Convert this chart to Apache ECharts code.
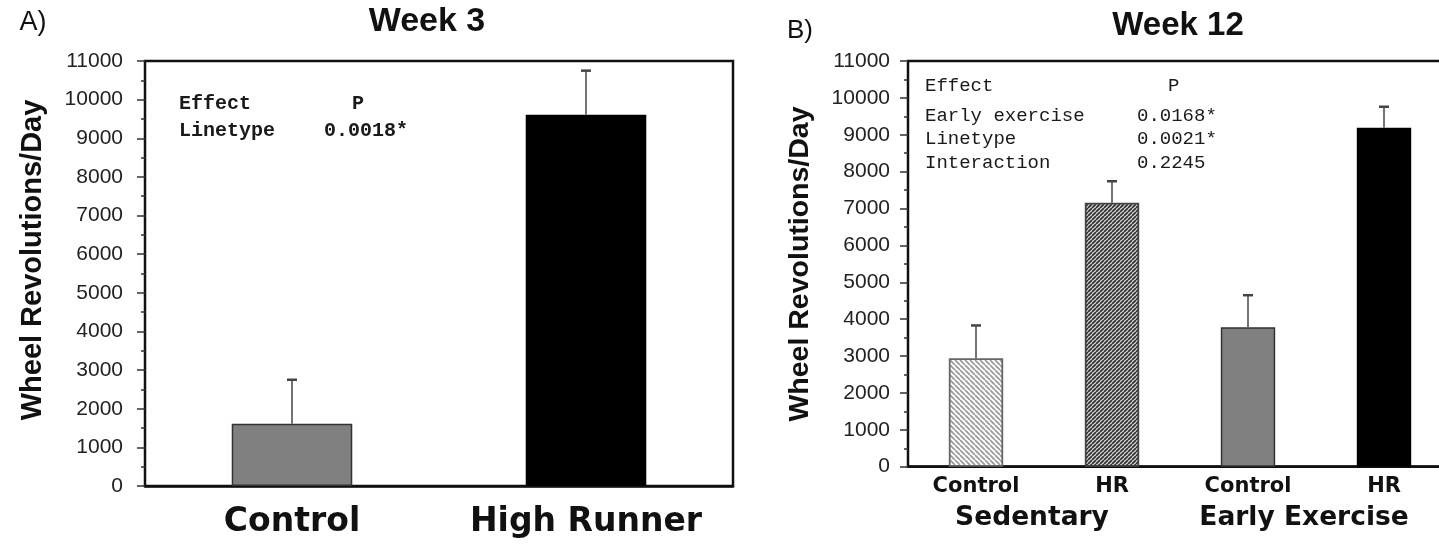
<!DOCTYPE html>
<html><head><meta charset="utf-8">
<script src="https://cdn.jsdelivr.net/npm/echarts@6/dist/echarts.min.js"></script>
<style>html,body{margin:0;padding:0;background:#fff}#c{width:1439px;height:547px}</style>
</head><body><div id="c"></div>
<script>
// ---- data ----
const week3Categories = ['Control', 'High Runner'];
const week3Means = [1610, 9610];
const week3Upper = [2750, 10750];
const week12Categories = ['Control', 'HR', 'Control', 'HR'];
const week12Groups = ['Sedentary', 'Early Exercise'];
const week12Means = [2940, 7160, 3780, 9190];
const week12Upper = [3830, 7740, 4650, 9760];
const yMin = 0, yMax = 11000, yStep = 1000;
const week3Stats = [['Effect', 'P'], ['Linetype', '0.0018*']];
const week12Stats = [['Effect', 'P'], ['Early exercise', '0.0168*'], ['Linetype', '0.0021*'], ['Interaction', '0.2245']];

// ---- styling helpers ----
function hatch(size, dir, bg, fg, lw) {
  const c = document.createElement('canvas');
  c.width = size; c.height = size;
  const g = c.getContext('2d');
  g.fillStyle = bg; g.fillRect(0, 0, size, size);
  g.strokeStyle = fg; g.lineWidth = lw;
  g.beginPath();
  for (let k = -size; k <= size; k += size) {
    if (dir === 'back') { g.moveTo(k, 0); g.lineTo(k + size, size); }
    else { g.moveTo(k, size); g.lineTo(k + size, 0); }
  }
  g.stroke();
  return c;
}
const lightHatch = { image: hatch(5, 'back', '#ffffff', '#9c9c9c', 1.8), repeat: 'repeat' };
const darkHatch = { image: hatch(4, 'fwd', '#d6d6d6', '#303030', 1.7), repeat: 'repeat' };

const week3Styles = [
  { color: '#808080', borderColor: '#333', borderWidth: 1.5 },
  { color: '#000000' }
];
const week12Styles = [
  { color: lightHatch, borderColor: '#666', borderWidth: 1.8 },
  { color: darkHatch, borderColor: '#444', borderWidth: 1.8 },
  { color: '#808080', borderColor: '#333', borderWidth: 1.5 },
  { color: '#000000' }
];

function errRender(params, api) {
  const i = api.value(0), m = api.value(1), u = api.value(2);
  const p0 = api.coord([i, m]);
  const p1 = api.coord([i, u]);
  return {
    type: 'group',
    children: [
      { type: 'line', shape: { x1: p0[0], y1: p0[1], x2: p1[0], y2: p1[1] }, style: { stroke: '#444', lineWidth: 1.5 } },
      { type: 'line', shape: { x1: p1[0] - 5, y1: p1[1], x2: p1[0] + 5, y2: p1[1] }, style: { stroke: '#444', lineWidth: 2.5 } }
    ]
  };
}

const tickFont = '"Liberation Sans", Arial, sans-serif';
const catFont = '"DejaVu Sans", Verdana, sans-serif';
const monoFont = '"Liberation Mono", "Courier New", monospace';

function yAxisFor(gi, margin) {
  return {
    gridIndex: gi, type: 'value', min: yMin, max: yMax, interval: yStep,
    axisLine: { show: true, lineStyle: { color: '#111', width: 2 } },
    axisTick: { show: true, length: 8, lineStyle: { color: '#333', width: 1.5 } },
    minorTick: { show: true, splitNumber: 2, length: 4, lineStyle: { color: '#333', width: 1.5 } },
    splitLine: { show: false },
    axisLabel: { fontSize: 21, color: '#222', fontFamily: tickFont, margin: margin, formatter: v => String(v) }
  };
}

function statTexts(rows, x1, x2, y0, dy, size, weight) {
  const out = [];
  rows.forEach((r, k) => {
    out.push({ type: 'text', left: x1, top: y0 + k * dy - size / 2, style: { text: r[0], font: weight + ' ' + size + 'px ' + monoFont, fill: '#1a1a1a' } });
    out.push({ type: 'text', left: x2, top: y0 + k * dy - size / 2, style: { text: r[1], font: weight + ' ' + size + 'px ' + monoFont, fill: '#1a1a1a' } });
  });
  return out;
}

const graphics = [
  { type: 'text', x: 33, y: 23, style: { text: 'A)', font: '27px ' + tickFont, fill: '#111', align: 'center', verticalAlign: 'middle' } },
  { type: 'text', x: 427, y: 22, style: { text: 'Week 3', font: 'bold 34px ' + tickFont, fill: '#111', align: 'center', verticalAlign: 'middle' } },
  { type: 'text', x: 800, y: 31, style: { text: 'B)', font: '26px ' + tickFont, fill: '#111', align: 'center', verticalAlign: 'middle' } },
  { type: 'text', x: 1178, y: 26, style: { text: 'Week 12', font: 'bold 33px ' + tickFont, fill: '#111', align: 'center', verticalAlign: 'middle' } },
  { type: 'text', x: 33, y: 260, rotation: Math.PI / 2, style: { text: 'Wheel Revolutions/Day', font: 'bold 29px ' + tickFont, fill: '#111', align: 'center', verticalAlign: 'middle' } },
  { type: 'text', x: 800, y: 264, rotation: Math.PI / 2, style: { text: 'Wheel Revolutions/Day', font: 'bold 28.5px ' + tickFont, fill: '#111', align: 'center', verticalAlign: 'middle' } }
].concat(
  statTexts([week3Stats[0]], 179, 352, 104, 0, 20, 'bold'),
  statTexts([week3Stats[1]], 179, 324, 131, 0, 20, 'bold'),
  statTexts([week12Stats[0]], 925, 1168, 86, 0, 19, 'normal'),
  statTexts(week12Stats.slice(1), 925, 1137, 116, 23.4, 19, 'normal')
);

const chart = echarts.init(document.getElementById('c'), null, { renderer: 'canvas' });
chart.setOption({
  animation: false,
  backgroundColor: '#fff',
  grid: [
    { left: 145, top: 61, width: 588, height: 425, outerBoundsMode: 'none', containLabel: false, show: true, borderColor: '#111', borderWidth: 2.5, backgroundColor: 'transparent' },
    { left: 908, top: 61, width: 544, height: 405.7, outerBoundsMode: 'none', containLabel: false, show: true, borderColor: '#111', borderWidth: 2.5, backgroundColor: 'transparent' }
  ],
  xAxis: [
    { gridIndex: 0, type: 'category', data: week3Categories,
      axisLine: { lineStyle: { color: '#111', width: 2.5 } },
      axisTick: { length: 6, lineStyle: { color: '#333', width: 1.5 } },
      axisLabel: { interval: 0, hideOverlap: false, fontSize: 33, fontWeight: 'bold', fontFamily: catFont, color: '#111', margin: 20 } },
    { gridIndex: 1, type: 'category', data: week12Categories,
      axisLine: { lineStyle: { color: '#111', width: 2.5 } },
      axisTick: { length: 5, lineStyle: { color: '#333', width: 1.5 } },
      axisLabel: { interval: 0, hideOverlap: false, fontSize: 21, fontWeight: 'bold', fontFamily: catFont, color: '#111', margin: 9 } },
    { gridIndex: 1, type: 'category', data: week12Groups, position: 'bottom',
      axisLine: { show: false }, axisTick: { show: false },
      axisLabel: { interval: 0, hideOverlap: false, fontSize: 26.5, fontWeight: 'bold', fontFamily: catFont, color: '#111', margin: 38, padding: [0, 24, 0, 0] } }
  ],
  yAxis: [yAxisFor(0, 22), yAxisFor(1, 18)],
  series: [
    { type: 'bar', xAxisIndex: 0, yAxisIndex: 0, barWidth: '41%',
      data: week3Means.map((v, i) => ({ value: v, itemStyle: week3Styles[i] })) },
    { type: 'custom', xAxisIndex: 0, yAxisIndex: 0, renderItem: errRender, z: 5,
      data: week3Means.map((v, i) => [i, v, week3Upper[i]]) },
    { type: 'bar', xAxisIndex: 1, yAxisIndex: 1, barWidth: '40%',
      data: week12Means.map((v, i) => ({ value: v, itemStyle: week12Styles[i] })) },
    { type: 'custom', xAxisIndex: 1, yAxisIndex: 1, renderItem: errRender, z: 5,
      data: week12Means.map((v, i) => [i, v, week12Upper[i]]) }
  ],
  graphic: graphics
});
</script>
</body></html>
